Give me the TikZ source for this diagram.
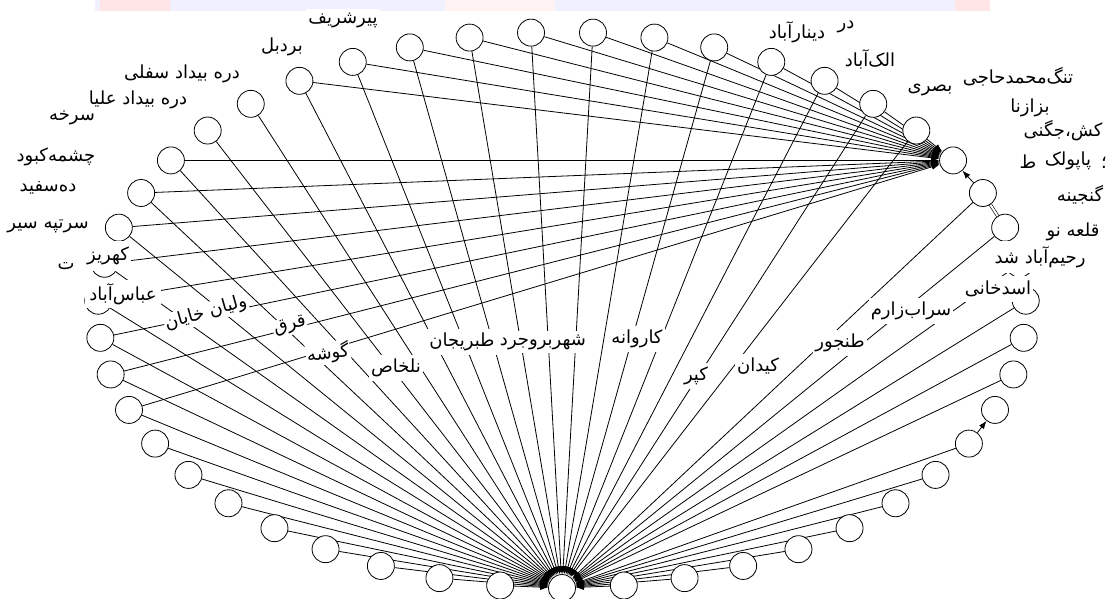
\documentclass[tikz,border=0pt]{standalone}
\usepackage{fontspec}
\newfontfamily\arabicfont[Script=Arabic]{DejaVu Sans}
\TeXXeTstate=1
\usetikzlibrary{arrows.meta,backgrounds}
\newcommand{\fa}[1]{{\arabicfont\beginR #1\endR}}

\begin{document}
\begin{tikzpicture}[
    x=1pt, y=-1pt,
    village/.style={circle, draw, fill=white, minimum size=27pt, inner sep=0pt, line width=0.8pt},
    vname/.style={fill=white, inner xsep=2pt, inner ysep=3.5pt, font=\fontsize{18}{20}\selectfont},
    tilted/.style={vname, inner sep=1pt},
    link/.style={line width=0.8pt, -{Latex[length=8pt,width=6pt]}}
  ]
  \useasboundingbox (0,0) rectangle (1115,598);

  % villages on the ellipse, v0 and v16 are the two hubs
  \foreach \k [evaluate=\k as \t using 270+\k*7.65957] in {0,...,46}
    \node[village] (v\k) at ({562+464*cos(\t)}, {310-278*sin(\t)}) {};

  \begin{pgfonlayer}{background}
    % faded strip along the top
    \fill[blue!6] (95,0) rectangle (990,11);
    \fill[red!10] (100,0) rectangle (170,11);
    \fill[red!5] (445,0) rectangle (555,11);
    \fill[red!10] (955,0) rectangle (990,11);

    % links into the bottom hub
    \foreach \k in {1,...,8}
      \draw[link] (v\k) -- (v0);
    \foreach \k in {10,...,15}
      \draw[link] (v\k) -- (v0);
    \foreach \k in {17,...,46}
      \draw[link] (v\k) -- (v0);

    % links into the right hub
    \foreach \k in {17,...,28}
      \draw[link] (v\k) -- (v16);
    \foreach \k in {31,...,38}
      \draw[link] (v\k) -- (v16);
    \draw[link] (v15) -- (v16);

    % the few other links
    \draw[link] (v8) -- (v9);
    \draw[double, double distance=2pt, line width=0.6pt] (v14) -- (v15);
  \end{pgfonlayer}

  % names, left half
  \node[vname] (pirsharif) at (343,20) {\fa{پیرشریف}};
  \node[vname] (bardbol) at (282,47) {\fa{بردبل}};
  \node[vname] (sofla) at (182,74) {\fa{دره بیداد سفلی}};
  \node[vname] (olya) at (138,100) {\fa{دره بیداد علیا}};
  \node[vname] (sorkheh) at (72,118) {\fa{سرخه}};
  \node[vname] (kabud) at (56,157) {\fa{چشمه‌کبود}};
  \node[vname] (sefid) at (48,188) {\fa{ده‌سفید}};
  \node[vname] (sartappeh) at (48,226) {\fa{سرتپه سیر}};
  \node[vname, inner ysep=6pt] (te) at (66,266) {\fa{ت}};
  \node[vname, inner ysep=6pt] (kahriz) at (108,256) {\fa{کهریز}};
  \node[vname, inner xsep=4pt] (abbas) at (123,294) {\fa{عباس‌آباد}};
  \node[tilted, rotate=16] (valiyan) at (206,313) {\fa{ولیان خایان}};
  \node[tilted, rotate=14] (qoroq) at (290,326) {\fa{قرق}};
  \node[tilted, rotate=8] (gusheh) at (328,353) {\fa{گوشه}};
  \node[vname] (nalkhas) at (396,368) {\fa{نلخاص}};
  \node[vname] (tabarijan) at (462,342) {\fa{طبریجان}};
  \node[vname] (borujerd) at (543,342) {\fa{شهربروجرد}};

  % names, right half
  \node[vname] (karvaneh) at (637,339) {\fa{کاروانه}};
  \node[vname] (kapar) at (696,376) {\fa{کپر}};
  \node[vname] (keydan) at (758,366) {\fa{کیدان}};
  \node[vname] (tanjur) at (840,343) {\fa{طنجور}};
  \node[vname] (sarab) at (911,311) {\fa{سراب‌زارم}};
  \node[vname, inner ysep=5pt] (rahim) at (1040,257) {\fa{رحیم‌آباد شد}};
  \node[vname, inner ysep=5pt] (asad) at (998,289) {\fa{اسدخانی}};
  \node[vname] (qaleh) at (1073,232) {\fa{قلعه نو}};
  \node[vname] (ganjineh) at (1080,195) {\fa{گنجینه}};
  \node[vname] (ta) at (1028,162) {\fa{ط}};
  \node[vname] (semi) at (1104,163) {\fa{؛}};
  \node[vname] (papulak) at (1068,161) {\fa{پاپولک}};
  \node[vname] (chegeni) at (1063,131) {\fa{کش،جگنی}};
  \node[vname, inner ysep=1pt] (bazazna) at (1030,108) {\fa{بزازنا}};
  \node[vname] (basri) at (930,90) {\fa{بصری}};
  \node[vname] (tang) at (1018,77) {\fa{تنگ‌محمدحاجی}};
  \node[vname] (alak) at (870,59) {\fa{الک‌آباد}};
  \node[vname] (dar) at (846,27) {\fa{در}};
  \node[vname] (dinar) at (797,32) {\fa{دینارآباد}};
\end{tikzpicture}
\end{document}
